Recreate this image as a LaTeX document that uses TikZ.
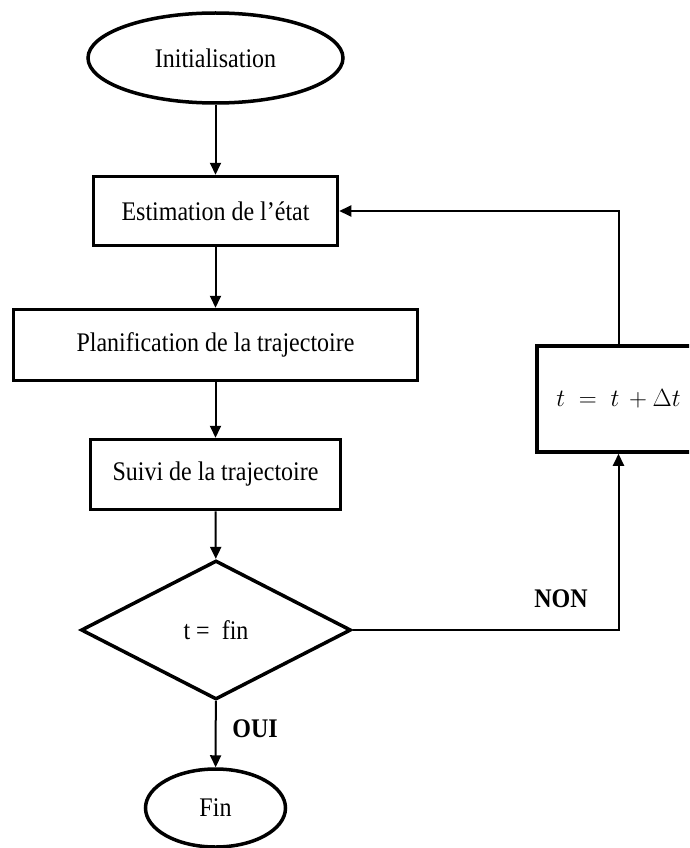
\documentclass[tikz,border=0pt]{standalone}
\usepackage{fontspec}
\setmainfont{Liberation Serif}
\usetikzlibrary{shapes.geometric,arrows.meta}
\newcommand{\talltxt}[1]{\scalebox{1}[1.12]{#1}}
\begin{document}
\begin{tikzpicture}[x=1pt,y=-1pt,
  every node/.style={font=\fontsize{24}{28}\selectfont},
  nodebox/.style={draw,line width=3.5pt,rectangle,inner sep=0pt},
  oval/.style={draw,line width=3.5pt,ellipse,inner sep=0pt},
  decision/.style={draw,line width=3.5pt,diamond,inner sep=0pt},
  conn/.style={line width=2pt,-{Triangle[length=12pt,width=11pt]}},
  lbl/.style={font=\fontsize{24}{28}\selectfont\bfseries}]
\clip (0,0) rectangle (689,848);
\fill[white] (0,0) rectangle (689,848);
\node[oval,minimum width=255pt,minimum height=90pt] (init) at (215.5,58) {\talltxt{Initialisation}};
\node[nodebox,minimum width=244pt,minimum height=69pt] (est) at (215.5,211) {\talltxt{Estimation de l’état}};
\node[nodebox,minimum width=404pt,minimum height=71pt] (plan) at (215.5,345) {\talltxt{Planification de la trajectoire}};
\node[nodebox,minimum width=250pt,minimum height=70pt] (suivi) at (215.5,474.5) {\talltxt{Suivi de la trajectoire}};
\node[decision,minimum width=270pt,minimum height=139pt] (dec) at (216,630) {\talltxt{t =\ \ fin}};
\node[oval,minimum width=140pt,minimum height=78pt] (fin) at (215.5,808) {\talltxt{Fin}};
\node[nodebox,minimum width=163pt,minimum height=106pt] (upd) at (618.5,399) {$t\;=\;t\,+\Delta t$};
\draw[conn] (init) -- (est);
\draw[conn] (est) -- (plan);
\draw[conn] (plan) -- (suivi);
\draw[conn] (suivi) -- (dec);
\draw[conn] (dec) -- (fin);
\draw[conn] (dec.east) -| (upd.south);
\draw[conn] (upd.north) |- (est.east);
\node[lbl] (oui) at (255,729) {\talltxt{OUI}};
\node[lbl] (non) at (561,599) {\talltxt{NON}};
\end{tikzpicture}
\end{document}
